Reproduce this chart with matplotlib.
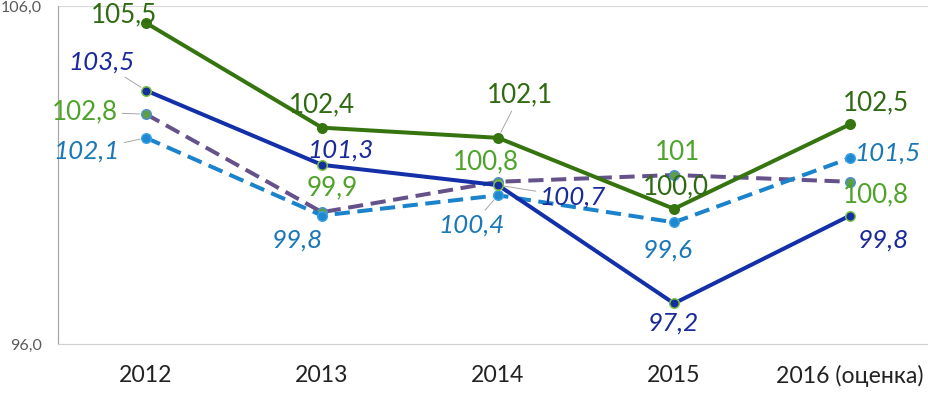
import matplotlib
matplotlib.use('Agg')
import matplotlib.pyplot as plt
import numpy as np

plt.rcParams['font.family'] = ['Lato', 'DejaVu Sans']

years = ['2012', '2013', '2014', '2015', '2016 (оценка)']
green_vals = [105.5, 102.4, 102.1, 100.0, 102.5]
blue_vals = [103.5, 101.3, 100.7, 97.2, 99.8]
purple_vals = [102.8, 99.9, 100.8, 101.0, 100.8]
lightblue_vals = [102.1, 99.8, 100.4, 99.6, 101.5]
label_text = {
    'green': ['105,5', '102,4', '102,1', '100,0', '102,5'],
    'blue': ['103,5', '101,3', '100,7', '97,2', '99,8'],
    'purple': ['102,8', '99,9', '100,8', '101', '100,8'],
    'lightblue': ['102,1', '99,8', '100,4', '99,6', '101,5'],
}

# label offsets in points (dpi=72 -> pixels)
offsets = {
    'green': [(-22, 8), (0, 23), (22, 43), (2, 22), (26, 21)],
    'blue': [(-44, 28), (19, 15), (75, -12), (-1, -20), (33, -25)],
    'purple': [(-61, 2), (10, 24), (-12, 20), (3, 22), (26, -13)],
    'lightblue': [(-59, -13), (-25, -25), (-26, -30), (-6, -28), (38, 5)],
}
leaders = {('blue', 0), ('purple', 0), ('lightblue', 0), ('green', 2),
           ('lightblue', 2), ('blue', 2)}

series = [
    # name, values, line color, dashed, marker face, marker edge, label color, italic
    ('purple', purple_vals, '#66528A', True, '#5E9E4A', '#4A90C8', '#4FA32A', False),
    ('lightblue', lightblue_vals, '#1B82CC', True, '#1E88D0', '#3AA0E0', '#1A78B8', True),
    ('green', green_vals, '#35740F', False, '#35740F', '#35740F', '#306A12', False),
    ('blue', blue_vals, '#1430A8', False, '#14309E', '#7FC242', '#1A2A9A', True),
]

fig = plt.figure(figsize=(928 / 72, 393 / 72), dpi=72)
ax = fig.add_axes([58 / 928, 49 / 393, 880 / 928, 338 / 393])

x = np.arange(len(years))
for name, vals, color, dashed, mface, medge, lcolor, italic in series:
    line, = ax.plot(x, vals, color=color, linewidth=4, marker='o',
                    markersize=9.5, markerfacecolor=mface, markeredgecolor=medge,
                    markeredgewidth=1.5, zorder=3)
    if dashed:
        line.set_dashes((3.8, 1.9))
    for i, v in enumerate(vals):
        dx, dy = offsets[name][i]
        arrow = None
        if (name, i) in leaders:
            arrow = dict(arrowstyle='-', color='#A0A0A0', lw=0.9,
                         shrinkA=2, shrinkB=6)
        ax.annotate(label_text[name][i], xy=(i, v), xytext=(dx, dy),
                    textcoords='offset points', ha='center', va='center',
                    fontsize=26, color=lcolor,
                    fontstyle='italic' if italic else 'normal',
                    arrowprops=arrow, zorder=5)

ax.set_xlim(-0.5, 4.5)
ax.set_ylim(96, 106)
ax.set_yticks([96, 106])
ax.set_yticklabels(['96,0', '106,0'], color='#595959', fontsize=16)
ax.set_xticks(x)
ax.set_xticklabels(years, fontsize=23, color='#222222')
ax.tick_params(axis='both', length=0)
ax.tick_params(axis='y', pad=16)
ax.tick_params(axis='x', pad=21)
ax.axhline(106, color='#D9D9D9', linewidth=1.2, zorder=1)

for s in ['top', 'right']:
    ax.spines[s].set_visible(False)
ax.spines['left'].set_color('#A6A6A6')
ax.spines['bottom'].set_color('#D0D0D0')
ax.spines['left'].set_linewidth(1.2)
ax.spines['bottom'].set_linewidth(1.2)

fig.savefig('out.png', dpi=72)
plt.close(fig)
